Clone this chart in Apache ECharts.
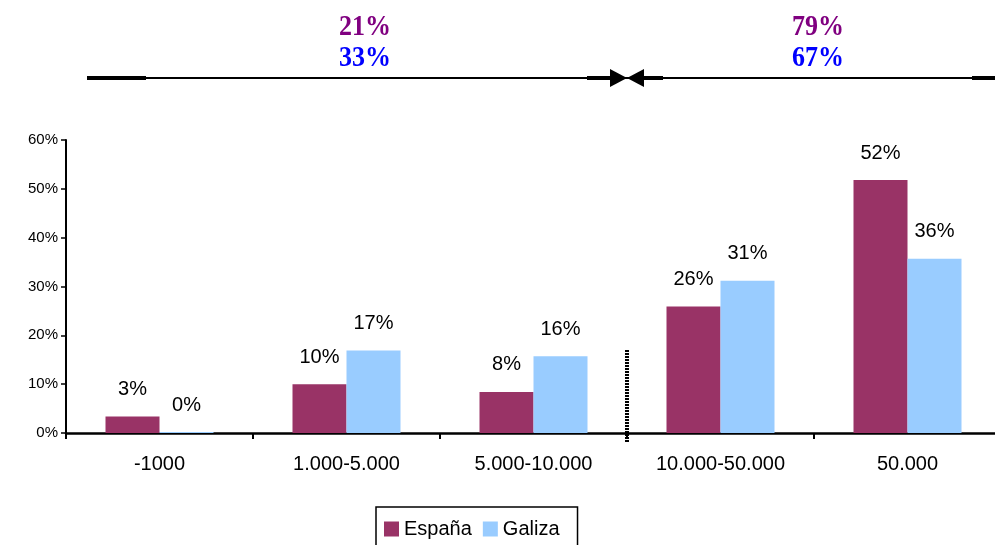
<!DOCTYPE html>
<html>
<head>
<meta charset="utf-8">
<script src="https://cdn.jsdelivr.net/npm/echarts@6/dist/echarts.min.js"></script>
<style>
  html, body { margin: 0; padding: 0; background: #ffffff; overflow: hidden; }
  #chart { width: 1001px; height: 545px; }
</style>
</head>
<body>
<div id="chart"></div>
<script>
// datos
var categories = ["-1000", "1.000-5.000", "5.000-10.000", "10.000-50.000", "50.000"];
var espana = [3.4, 10.0, 8.4, 25.9, 51.8];
var galiza = [0.2, 16.9, 15.7, 31.2, 35.7];
var yTicks = [0, 10, 20, 30, 40, 50, 60];
// totales de arriba (izquierda / derecha)
var topEspana = ["21%", "79%"];
var topGaliza = ["33%", "67%"];

var sansFont = "'Liberation Sans', Arial, sans-serif";
var serifFont = "'Liberation Serif', 'Times New Roman', serif";

var myChart = echarts.init(document.getElementById("chart"));

var labelCfg = {
  show: true,
  position: "top",
  distance: 17,
  fontSize: 20,
  fontFamily: sansFont,
  color: "#000000",
  formatter: function (p) {
    return Math.round(p.value) + "%";
  },
};

var option = {
  backgroundColor: "#ffffff",
  animation: false,
  grid: {
    left: 66,
    top: 140,
    bottom: 112,
    right: 0,
  },
  legend: {
    data: ["España", "Galiza"],
    left: 376,
    top: 507,
    icon: "rect",
    itemWidth: 15,
    itemHeight: 15,
    itemGap: 11,
    padding: [12, 18, 24, 8],
    borderColor: "#000000",
    borderWidth: 1.5,
    textStyle: {
      fontSize: 20,
      fontFamily: sansFont,
      color: "#000000",
    },
  },
  xAxis: {
    type: "category",
    data: categories,
    axisLine: {
      show: true,
      lineStyle: { color: "#000000", width: 2.5 },
    },
    axisTick: {
      show: true,
      length: 6,
      lineStyle: { color: "#000000", width: 2 },
    },
    axisLabel: {
      fontSize: 20,
      fontFamily: sansFont,
      color: "#000000",
      margin: 21,
    },
  },
  yAxis: {
    type: "value",
    min: yTicks[0],
    max: yTicks[yTicks.length - 1],
    interval: 10,
    splitLine: { show: false },
    axisLine: {
      show: true,
      lineStyle: { color: "#000000", width: 2 },
    },
    axisTick: {
      show: true,
      length: 5,
      lineStyle: { color: "#000000", width: 1.5 },
    },
    axisLabel: {
      fontSize: 15,
      fontFamily: sansFont,
      color: "#000000",
      margin: 8,
      formatter: "{value}%",
    },
  },
  series: [
    {
      name: "España",
      type: "bar",
      data: espana,
      barWidth: 54,
      barGap: "0%",
      itemStyle: { color: "#993366" },
      label: labelCfg,
    },
    {
      name: "Galiza",
      type: "bar",
      data: galiza,
      barWidth: 54,
      itemStyle: { color: "#99CCFF" },
      label: labelCfg,
    },
  ],
};

myChart.setOption(option);

// línea punteada entre 5.000-10.000 y 10.000-50.000
var xa = myChart.convertToPixel({ xAxisIndex: 0 }, categories[2]);
var xb = myChart.convertToPixel({ xAxisIndex: 0 }, categories[3]);
var xDiv = (xa + xb) / 2;
var yTop = myChart.convertToPixel({ yAxisIndex: 0 }, 17);
var yZero = myChart.convertToPixel({ yAxisIndex: 0 }, 0);

var lineY = 78;
var midX = 627;

function topText(x, y, txt, color) {
  return {
    type: "text",
    x: x,
    y: y,
    scaleY: 1.12,
    style: {
      text: txt,
      fill: color,
      font: "bold 26px " + serifFont,
      align: "center",
      verticalAlign: "middle",
    },
  };
}

myChart.setOption({
  graphic: [
    {
      type: "line",
      shape: { x1: xDiv, y1: yTop, x2: xDiv, y2: yZero + 10 },
      style: { stroke: "#000000", lineWidth: 4, lineDash: [2, 1] },
      z: 100,
    },
    // flecha de arriba
    {
      type: "line",
      shape: { x1: 87, y1: lineY, x2: 1001, y2: lineY },
      style: { stroke: "#000000", lineWidth: 2 },
    },
    {
      type: "line",
      shape: { x1: 87, y1: lineY, x2: 146, y2: lineY },
      style: { stroke: "#000000", lineWidth: 4 },
    },
    {
      type: "line",
      shape: { x1: 587, y1: lineY, x2: 611, y2: lineY },
      style: { stroke: "#000000", lineWidth: 4 },
    },
    {
      type: "line",
      shape: { x1: 643, y1: lineY, x2: 663, y2: lineY },
      style: { stroke: "#000000", lineWidth: 4 },
    },
    {
      type: "line",
      shape: { x1: 972, y1: lineY, x2: 1001, y2: lineY },
      style: { stroke: "#000000", lineWidth: 4 },
    },
    {
      type: "polygon",
      shape: { points: [[610, lineY - 9], [midX, lineY], [610, lineY + 9]] },
      style: { fill: "#000000" },
    },
    {
      type: "polygon",
      shape: { points: [[644, lineY - 9], [midX, lineY], [644, lineY + 9]] },
      style: { fill: "#000000" },
    },
    topText(365, 27, topEspana[0], "#800080"),
    topText(365, 58, topGaliza[0], "#0000FF"),
    topText(818, 27, topEspana[1], "#800080"),
    topText(818, 58, topGaliza[1], "#0000FF"),
  ],
});

window.onresize = function () {
  myChart.resize();
};
</script>
</body>
</html>
